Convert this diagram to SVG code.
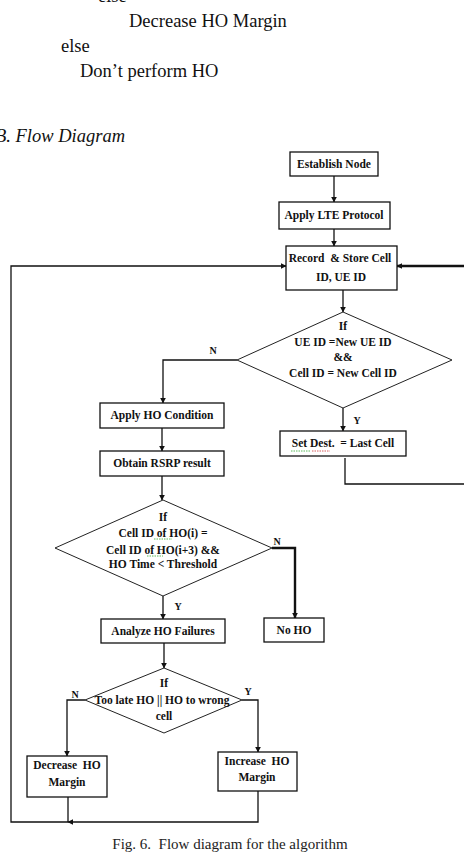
<svg xmlns="http://www.w3.org/2000/svg" width="464" height="856" viewBox="0 0 464 856">
<defs>
<marker id="ah" viewBox="0 0 10 10" refX="9" refY="5" markerWidth="6" markerHeight="6" markerUnits="userSpaceOnUse" orient="auto"><path d="M0,0 L10,5 L0,10 z" fill="#111"/></marker>
<style>
text{white-space:pre}
.body{font-family:"Liberation Serif","Times New Roman",serif;font-size:18.5px;fill:#111}
.cap{font-family:"Liberation Serif","Times New Roman",serif;font-size:15px;fill:#222}
.t{font-family:"Liberation Serif","Times New Roman",serif;font-size:11.5px;font-weight:bold;fill:#111;text-anchor:middle;dominant-baseline:central}
.lb{font-family:"Liberation Serif","Times New Roman",serif;font-size:10px;font-weight:bold;fill:#111;text-anchor:middle;dominant-baseline:central}
.box{fill:#fff;stroke:#111;stroke-width:1.3}
.dia{fill:#fff;stroke:#222;stroke-width:1}
.ln{fill:none;stroke:#111;stroke-width:1.3}
.thick{fill:none;stroke:#111;stroke-width:2.4}
.sq{fill:none;stroke-width:0.8;stroke-dasharray:1.5 1}
</style>
</defs>
<rect width="464" height="856" fill="#fff"/>
<g id="prose">
<text class="body" x="98" y="2">else</text>
<text class="body" x="129" y="27">Decrease HO Margin</text>
<text class="body" x="61" y="52">else</text>
<text class="body" x="80" y="77">Don’t perform HO</text>
<text class="body" x="125" y="142" text-anchor="end" font-style="italic">B. Flow Diagram</text>
</g>
<g id="connectors">
<line class="ln" x1="334" y1="176" x2="334" y2="202" marker-end="url(#ah)"/>
<line class="ln" x1="334" y1="229" x2="334" y2="246" marker-end="url(#ah)"/>
<line class="ln" x1="343" y1="290" x2="343" y2="312" marker-end="url(#ah)"/>
<polyline class="ln" points="237,360 163,360 163,403" marker-end="url(#ah)"/>
<line class="ln" x1="343" y1="408" x2="343" y2="431" marker-end="url(#ah)"/>
<line class="ln" x1="162" y1="428" x2="162" y2="451" marker-end="url(#ah)"/>
<line class="ln" x1="162" y1="476" x2="162" y2="500" marker-end="url(#ah)"/>
<polyline class="thick" points="272,548 295,548 295,618" marker-end="url(#ah)"/>
<line class="ln" x1="163" y1="596" x2="163" y2="619" marker-end="url(#ah)"/>
<line class="ln" x1="164" y1="643" x2="164" y2="668" marker-end="url(#ah)"/>
<polyline class="ln" points="85,700 67,700 67,756" marker-end="url(#ah)"/>
<polyline class="ln" points="242,700 258,700 258,752" marker-end="url(#ah)"/>
<polyline class="ln" points="345,458 345,484 464,484"/>
<line class="thick" x1="464" y1="266" x2="397" y2="266" marker-end="url(#ah)"/>
<line class="ln" x1="68" y1="797" x2="68" y2="822"/>
<polyline class="ln" points="258,791 258,822 68,822" marker-end="url(#ah)"/>
<polyline class="ln" points="68,822 11,822 11,266 286,266" marker-end="url(#ah)"/>
</g>
<g id="establish"><rect class="box" x="290" y="152" width="88" height="24"/><text class="t" x="334" y="164">Establish Node</text></g>
<g id="lte"><rect class="box" x="279" y="202" width="111" height="27"/><text class="t" x="334" y="215">Apply LTE Protocol</text></g>
<g id="record"><rect class="box" x="286" y="246" width="111" height="44"/><text class="t" x="340" y="258">Record  &amp; Store Cell</text><text class="t" x="341" y="277">ID, UE ID</text></g>
<g id="cond1"><polygon class="dia" points="343,312 452,360 343,408 237,360"/>
<text class="t" x="343" y="326">If</text><text class="t" x="343" y="342">UE ID =New UE ID</text><text class="t" x="343" y="357">&amp;&amp;</text><text class="t" x="343" y="373">Cell ID = New Cell ID</text>
<text class="lb" x="213" y="350">N</text><text class="lb" x="357" y="420">Y</text></g>
<g id="setdest"><rect class="box" x="280" y="431" width="126" height="25"/><text class="t" x="343" y="443" font-weight="normal">Set Dest.  = Last Cell</text>
<path class="sq" stroke="#3a3" d="M291,451 h19"/><path class="sq" stroke="#c33" d="M312,451 h18"/></g>
<g id="applyho"><rect class="box" x="100" y="403" width="124" height="25"/><text class="t" x="162" y="415">Apply HO Condition</text></g>
<g id="rsrp"><rect class="box" x="100" y="451" width="124" height="25"/><text class="t" x="162" y="463">Obtain RSRP result</text></g>
<g id="cond2"><polygon class="dia" points="163,500 272,548 163,596 55,548"/>
<text class="t" x="163" y="517">If</text><text class="t" x="163" y="533">Cell ID of HO(i) =</text><text class="t" x="163" y="550">Cell ID of HO(i+3) &amp;&amp;</text><text class="t" x="163" y="564">HO Time &lt; Threshold</text>
<path class="sq" stroke="#3a3" d="M154,539 h18 M147,556 h16"/>
<text class="lb" x="277" y="541">N</text><text class="lb" x="178" y="606">Y</text></g>
<g id="analyze"><rect class="box" x="101" y="619" width="124" height="24"/><text class="t" x="163" y="631">Analyze HO Failures</text></g>
<g id="noho"><rect class="box" x="264" y="618" width="60" height="24"/><text class="t" x="294" y="630">No HO</text></g>
<g id="cond3"><polygon class="dia" points="164,668 242,700 164,733 85,700"/>
<text class="t" x="164" y="683">If</text><text class="t" x="162" y="700">Too late HO || HO to wrong</text><text class="t" x="164" y="716">cell</text>
<text class="lb" x="75" y="694">N</text><text class="lb" x="248" y="691">Y</text></g>
<g id="decrease"><rect class="box" x="27" y="756" width="80" height="41"/><text class="t" x="67" y="765">Decrease  HO</text><text class="t" x="67" y="782">Margin</text></g>
<g id="increase"><rect class="box" x="218" y="752" width="79" height="39"/><text class="t" x="257" y="761">Increase  HO</text><text class="t" x="257" y="777">Margin</text></g>
<text class="cap" x="230" y="849" text-anchor="middle">Fig. 6.  Flow diagram for the algorithm</text>
</svg>
